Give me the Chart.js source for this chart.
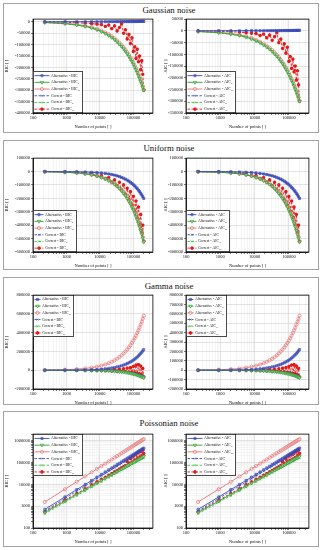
<!DOCTYPE html>
<html>
<head>
<meta charset="utf-8">
<script src="https://cdn.jsdelivr.net/npm/chart.js"></script>
<style>
body { margin: 0; background: #fff; width: 323px; height: 550px; position: relative; overflow: hidden; font-family: "Liberation Serif", serif; }
.panel { position: absolute; left: 3px; width: 316px; border: 1.5px solid #a3a3a3; box-sizing: border-box; }
.title { position: absolute; left: 0; width: 338px; text-align: center; font-size: 8.8px; line-height: 12px; color: #111; }
canvas { position: absolute; }
</style>
</head>
<body>
<script>
// number of points (x) shared by every series
const N = [225, 900, 2025, 3600, 5625, 8100, 11025, 14400, 18225, 22500, 27225, 32400, 38025, 44100, 50625,
  57600, 65025, 72900, 81225, 90000, 99225, 108900, 119025, 129600, 140625, 152100, 164025, 176400, 189225, 202500];

const seriesPrefix = ['Alternative - ', 'Alternative - ', 'Alternative - ', 'Correct - ', 'Correct - ', 'Correct - '];
const seriesSub = ['', 'u', 'cr', '', 'u', 'cr'];
const xTickLabels = [100, 1000, 10000, 100000];

// Gaussian noise
const gaussAltBIC = [0,100,200,200,300,400,400,500,600,600,700,800,800,900,1000,1000,1100,1200,1200,1300,1400,1400,1500,1600,1600,1700,1800,1800,1900,2000];
const gaussAltBICu = [-3000,-8000,-14000,-20000,-27000,-35000,-43000,-51000,-60000,-69000,-78000,-88000,-98000,-108000,-118000,-129000,-140000,-151000,-163000,-174000,-186000,-198000,-210000,-222000,-235000,-248000,-260000,-273000,-287000,-300000];
const gaussAltBICcr = [-2000,-6000,-11000,-17000,-23000,-30000,-38000,-46000,-54000,-63000,-72000,-82000,-92000,-102000,-112000,-123000,-134000,-145000,-157000,-168000,-180000,-192000,-204000,-217000,-229000,-242000,-255000,-268000,-283000,-298000];
const gaussCorBIC = [100,200,300,400,500,500,600,700,800,900,900,1000,1100,1200,1300,1300,1400,1500,1600,1700,1700,1800,1900,2000,2100,2100,2200,2300,2400,2500];
const gaussCorBICu = [-3000,-9000,-15000,-21000,-28000,-36000,-44000,-53000,-62000,-71000,-80000,-90000,-100000,-110000,-121000,-132000,-143000,-154000,-166000,-177000,-189000,-201000,-213000,-226000,-238000,-251000,-263000,-276000,-289000,-302000];
const gaussCorBICcr = [-500,-2000,-4000,-6000,-8000,-10000,-12000,-20000,-14000,-30000,-18000,-40000,-25000,-8000,-50000,-35000,-75000,-55000,-95000,-70000,-130000,-110000,-160000,-120000,-175000,-150000,-210000,-170000,-230000,-300000];

// Uniform noise
const unifAltBIC = [-200,-900,-2000,-3600,-5600,-8000,-10900,-14200,-18000,-22200,-26900,-32000,-37600,-43600,-50000,-56900,-64200,-72000,-80200,-88900,-98000,-107600,-117600,-128000,-138900,-150200,-162000,-174200,-186900,-200000];
const unifAltBICu = [-1600,-5300,-10400,-17100,-24900,-34100,-44300,-55500,-67800,-81100,-95400,-110700,-126700,-143800,-161600,-180200,-199800,-220200,-241400,-263600,-286100,-309800,-333900,-359600,-385400,-411600,-439400,-466700,-495600,-525000];
const unifAltBICcr = [-1500,-5100,-10100,-16700,-24300,-33300,-43300,-54300,-66300,-79400,-93400,-108400,-124100,-140800,-158300,-176500,-195700,-215700,-236500,-258200,-280300,-303500,-327100,-352300,-377600,-403300,-430500,-457300,-485600,-520000];
const unifCorBIC = [-300,-1000,-2200,-3800,-5900,-8400,-11400,-14800,-18700,-23000,-27800,-33000,-38700,-44800,-51300,-58300,-65700,-73600,-81900,-90700,-99900,-109600,-119800,-130300,-141300,-152700,-164600,-176900,-189700,-202900];
const unifCorBICu = [-1700,-5500,-10700,-17500,-25400,-34700,-45000,-56300,-68700,-82100,-96500,-111900,-128000,-145200,-163100,-181800,-201500,-222000,-243300,-265600,-288200,-312000,-336200,-362000,-387900,-414200,-442100,-469500,-498500,-528000];
const unifCorBICcr = [-1000,-3500,-7000,-12000,-17000,-30000,-30000,-52000,-45000,-78000,-62000,-105000,-80000,-138000,-100000,-172000,-125000,-210000,-150000,-250000,-185000,-295000,-220000,-345000,-265000,-395000,-320000,-450000,-400000,-520000];

// Gamma noise
const gammaAltBIC = [200,1000,2200,3900,6100,8800,12000,15600,19800,24400,29600,35200,41300,47900,55000,62600,70600,79200,88200,97800,107800,118300,129300,140800,152800,165200,178200,191600,205600,220000];
const gammaAltBICu = [-100,-400,-800,-1400,-2200,-3200,-4400,-5700,-7200,-8900,-10800,-12800,-15000,-17400,-20000,-22800,-25700,-28800,-32100,-35600,-39200,-43000,-47000,-51200,-55600,-60100,-64800,-69700,-74800,-80000];
const gammaAltBICcr = [1800,5800,11500,18900,27600,37600,48900,61300,74900,89600,105400,122300,140000,158900,178600,199100,220700,243300,266700,291200,316100,342200,368900,397300,425700,454700,485500,515600,547500,580000];
const gammaCorBIC = [-100,-300,-600,-1100,-1800,-2500,-3400,-4500,-5700,-7000,-8500,-10100,-11800,-13700,-15800,-17900,-20200,-22700,-25300,-28000,-30900,-33900,-37000,-40300,-43800,-47300,-51000,-54900,-58900,-63000];
const gammaCorBICu = [-100,-400,-800,-1500,-2300,-3300,-4500,-5900,-7500,-9200,-11100,-13300,-15600,-18000,-20700,-23600,-26600,-29800,-33200,-36800,-40600,-44500,-48700,-53000,-57500,-62200,-67100,-72100,-77400,-82800];
const gammaCorBICcr = [-100,-400,-800,-1300,-2000,-2800,-1000,-4500,2000,-7000,6000,-9000,10000,-12000,15000,-15000,22000,-19000,28000,-22000,40000,-27000,55000,-32000,60000,-38000,45000,-48000,20000,-72000];

// Poissonian noise
const poisAltBIC = [710,2650,5730,9870,15100,21400,28700,36900,46200,56400,67600,79800,92900,106800,121900,137900,154700,172200,190600,210300,231100,251900,273800,297400,321400,346400,372100,398200,426000,454800];
const poisAltBICu = [510,1700,3450,5690,8380,11500,15000,19000,23300,28000,33100,38500,44200,50300,56800,63500,70500,77900,85600,93600,102000,110500,119300,128500,138200,147900,158100,168300,178500,189200];
const poisAltBICcr = [1550,5980,13200,23100,35800,51000,69000,89300,112500,138100,166300,197200,230500,266100,304700,345700,389100,434000,482100,533200,587500,641700,699100,761100,824600,889700,957900,1027700,1100500,1176500];
const poisCorBIC = [600,2250,4870,8390,12870,18150,24360,31320,39260,47910,57430,67790,78970,90780,103580,117220,131500,146400,162000,178800,196400,214100,232700,252800,273200,294400,316300,338500,362100,386600];
const poisCorBICu = [450,1500,3040,5010,7370,10120,13200,16700,20500,24600,29100,33900,38900,44300,50000,55900,62000,68600,75300,82400,89800,97200,105000,113100,121600,130200,139100,148100,157100,166500];
const poisCorBICcr = [550,1900,3800,6300,9500,13000,17000,21000,26000,31000,37000,43000,50000,57000,64000,72000,110000,88000,150000,105000,200000,125000,240000,145000,290000,170000,330000,200000,380000,260000];

// y tick labels
const gaussBicTicks = [0,-50000,-100000,-150000,-200000,-250000,-300000,-350000,-400000];
const gaussAicTicks = [50000,0,-50000,-100000,-150000,-200000,-250000,-300000,-350000];
const unifTicks = [100000,0,-100000,-200000,-300000,-400000,-500000,-600000];
const gammaBicTicks = [800000,600000,400000,200000,0,-200000];
const gammaAicTicks = [800000,700000,600000,500000,400000,300000,200000,100000,0,-100000,-200000];
const poisTicks = [100,1000,10000,100000,1000000];

const panels = [
  { title: 'Gaussian noise', box: [3, 130], titleY: 4, plot: [18, 113], legend: 'bottom', lw: 50,
    series: [gaussAltBIC, gaussAltBICu, gaussAltBICcr, gaussCorBIC, gaussCorBICu, gaussCorBICcr],
    y: [{ min: -400000, max: 12000, ticks: gaussBicTicks }, { min: -350000, max: 50000, ticks: gaussAicTicks }] },
  { title: 'Uniform noise', box: [140, 130], titleY: 142, plot: [157, 252], legend: 'bottom', lw: 44,
    series: [unifAltBIC, unifAltBICu, unifAltBICcr, unifCorBIC, unifCorBICu, unifCorBICcr],
    y: [{ min: -600000, max: 100000, ticks: unifTicks }, { min: -600000, max: 100000, ticks: unifTicks }] },
  { title: 'Gamma noise', box: [277, 128], titleY: 280, plot: [294, 389], legend: 'top', lw: 41,
    series: [gammaAltBIC, gammaAltBICu, gammaAltBICcr, gammaCorBIC, gammaCorBICu, gammaCorBICcr],
    y: [{ min: -200000, max: 800000, ticks: gammaBicTicks }, { min: -200000, max: 800000, ticks: gammaAicTicks }] },
  { title: 'Poissonian noise', box: [411, 136], titleY: 417, plot: [433, 528], legend: 'top', lw: 50, log: true,
    series: [poisAltBIC, poisAltBICu, poisAltBICcr, poisCorBIC, poisCorBICu, poisCorBICcr],
    y: [{ min: 100, max: 2000000, ticks: poisTicks }, { min: 100, max: 2000000, ticks: poisTicks }] }
];

const styles = [
  { c: '#3b4cb8', bg: 'rgba(59,76,184,0.3)', ps: 'rect', r: 1.5, rot: 0, dash: [] },
  { c: '#2f9e2f', bg: 'rgba(255,255,255,0.5)', ps: 'triangle', r: 1.9, rot: 180, dash: [] },
  { c: '#e27272', bg: 'rgba(255,255,255,0.3)', ps: 'circle', r: 1.6, rot: 0, dash: [] },
  { c: '#3b4cb8', bg: '#3b4cb8', ps: 'crossRot', r: 1.3, rot: 0, dash: [2.5, 1.5] },
  { c: '#3fbf3f', bg: '#3fbf3f', ps: 'crossRot', r: 1.4, rot: 0, dash: [2.5, 1.5] },
  { c: '#e31a1a', bg: '#e31a1a', ps: 'star', r: 1.7, rot: 0, dash: [2.5, 1.5] }
];

const serif = '"Liberation Serif", serif';
const tickFont = { family: serif, size: 4.5 };

function isDecade(v) { const l = Math.log10(v); return Math.abs(l - Math.round(l)) < 1e-9; }
function logGrid(lo, hi) {
  const out = [];
  for (let e = Math.floor(Math.log10(lo)); e <= Math.ceil(Math.log10(hi)); e++)
    for (let m = 1; m < 10; m++) { const v = m * Math.pow(10, e); if (v >= lo * 0.999 && v <= hi * 1.001) out.push(v); }
  return out;
}

// black box round the plot area
const frame = {
  id: 'frame',
  afterDatasetsDraw(chart) {
    const a = chart.chartArea, ctx = chart.ctx;
    ctx.save();
    ctx.strokeStyle = '#000'; ctx.lineWidth = 0.8;
    ctx.strokeRect(a.left, a.top, a.right - a.left, a.bottom - a.top);
    ctx.restore();
  }
};

// legend inside the plot, with subscripts
const boxLegend = {
  id: 'boxLegend',
  afterDraw(chart, args, opts) {
    const ctx = chart.ctx, a = chart.chartArea;
    const rowH = 6.7, w = opts.width, h = rowH * 6 + 1.5;
    const x0 = a.left, y0 = opts.corner === 'bottom' ? a.bottom - h : a.top;
    const tx = x0 + w - 32;
    ctx.save();
    ctx.fillStyle = '#fff'; ctx.fillRect(x0, y0, w, h);
    ctx.strokeStyle = '#000'; ctx.lineWidth = 0.7; ctx.strokeRect(x0 + 0.35, y0 + 0.35, w - 0.7, h - 0.7);
    chart.data.datasets.forEach((ds, i) => {
      const yy = y0 + 1 + rowH * (i + 0.5);
      ctx.strokeStyle = ds.borderColor; ctx.lineWidth = 0.9; ctx.setLineDash(ds.borderDash);
      ctx.beginPath(); ctx.moveTo(x0 + 1.5, yy); ctx.lineTo(tx - 1.5, yy); ctx.stroke();
      ctx.setLineDash([]);
      if (Chart.helpers && Chart.helpers.drawPoint) {
        ctx.fillStyle = ds.pointBackgroundColor; ctx.strokeStyle = ds.borderColor; ctx.lineWidth = ds.pointBorderWidth;
        Chart.helpers.drawPoint(ctx, { pointStyle: ds.pointStyle, rotation: ds.pointRotation, radius: ds.pointRadius, borderWidth: ds.pointBorderWidth }, (x0 + tx) / 2, yy);
      }
      ctx.fillStyle = '#111'; ctx.textBaseline = 'middle'; ctx.textAlign = 'left';
      ctx.font = '3.8px ' + serif;
      const base = seriesPrefix[i] + opts.crit;
      ctx.fillText(base, tx, yy);
      if (seriesSub[i]) {
        const bw = ctx.measureText(base).width;
        ctx.font = '2.7px ' + serif;
        ctx.fillText(seriesSub[i], tx + bw + 0.2, yy + 1.2);
      }
    });
    ctx.restore();
  }
};

function makeChart(p, side) {
  const crit = side === 0 ? 'BIC' : 'AIC';
  const plotL = side === 0 ? 33 : 186, plotR = side === 0 ? 154 : 310;
  const yW = side === 0 ? 30 : 24;
  const left = plotL - yW, top = p.plot[0] - 4;
  const cv = document.createElement('canvas');
  cv.width = plotR + 4 - left; cv.height = p.plot[1] - p.plot[0] + 22;
  cv.style.left = left + 'px'; cv.style.top = top + 'px';
  document.body.appendChild(cv);

  const yc = p.y[side];
  const yTickVals = p.log ? logGrid(yc.min, yc.max) : yc.ticks;
  const xTickVals = logGrid(100, 380000);

  const datasets = p.series.map((vals, i) => ({
    label: seriesPrefix[i] + crit + seriesSub[i],
    data: N.map((n, j) => ({ x: n, y: vals[j] })),
    borderColor: styles[i].c,
    backgroundColor: styles[i].bg,
    borderWidth: 0.9,
    borderDash: styles[i].dash,
    pointStyle: styles[i].ps,
    pointRotation: styles[i].rot,
    pointRadius: styles[i].r,
    pointBorderWidth: i === 5 ? 1.1 : 0.7,
    pointBackgroundColor: styles[i].bg,
    pointBorderColor: styles[i].c,
    tension: 0
  }));

  new Chart(cv, {
    type: 'line',
    data: { datasets },
    plugins: [frame, boxLegend],
    options: {
      responsive: false, animation: false, devicePixelRatio: 1,
      layout: { padding: { top: 4, right: 4, left: 0, bottom: 0 } },
      plugins: {
        legend: { display: false }, tooltip: { enabled: false },
        boxLegend: { width: p.lw, corner: p.legend, crit }
      },
      scales: {
        x: {
          type: 'logarithmic', min: 100, max: 380000,
          afterBuildTicks: s => { s.ticks = xTickVals.map(v => ({ value: v })); },
          afterFit: s => { s.height = 18; },
          ticks: { font: tickFont, color: '#111', padding: 0, autoSkip: false, maxRotation: 0,
            callback: v => xTickLabels.includes(v) ? String(v) : '' },
          grid: { color: c => c.tick && isDecade(c.tick.value) ? '#c6c6c6' : '#ebebeb', lineWidth: 0.5,
            tickLength: 2, tickColor: '#000', tickWidth: 0.5 },
          border: { color: '#000', width: 0.8 },
          title: { display: true, text: 'Number of points [ ]', font: tickFont, color: '#111', padding: { top: 0, bottom: 1 } }
        },
        y: {
          type: p.log ? 'logarithmic' : 'linear', min: yc.min, max: yc.max,
          afterBuildTicks: s => { s.ticks = yTickVals.map(v => ({ value: v })); },
          afterFit: s => { s.width = yW; },
          ticks: { font: tickFont, color: '#111', padding: 1, autoSkip: false,
            callback: v => yc.ticks.includes(v) ? String(v) : '' },
          grid: { color: c => (!p.log || (c.tick && isDecade(c.tick.value))) ? '#c6c6c6' : '#ebebeb', lineWidth: 0.5,
            tickLength: 2, tickColor: '#000', tickWidth: 0.5 },
          border: { color: '#000', width: 0.8 },
          title: { display: true, text: crit + ' [ ]', font: tickFont, color: '#111', padding: { top: 1.5, bottom: 0 } }
        }
      }
    }
  });
}

panels.forEach(p => {
  const box = document.createElement('div');
  box.className = 'panel';
  box.style.top = p.box[0] + 'px'; box.style.height = p.box[1] + 'px';
  document.body.appendChild(box);
  const t = document.createElement('div');
  t.className = 'title';
  t.style.top = p.titleY + 'px';
  t.textContent = p.title;
  document.body.appendChild(t);
  makeChart(p, 0);
  makeChart(p, 1);
});
</script>
</body>
</html>
